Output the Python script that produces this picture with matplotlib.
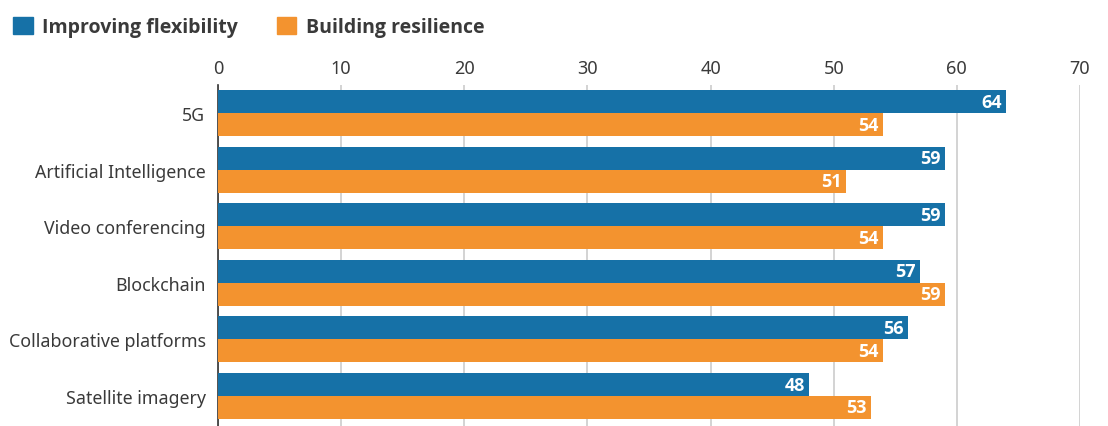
import numpy as np
import matplotlib.pyplot as plt
from matplotlib.patches import Patch

categories = ["5G", "Artificial Intelligence", "Video conferencing", "Blockchain",
              "Collaborative platforms", "Satellite imagery"]
flexibility = [64, 59, 59, 57, 56, 48]
resilience = [54, 51, 54, 59, 54, 53]
series_names = ["Improving flexibility", "Building resilience"]

blue = "#1671a7"
orange = "#f3932f"
text_col = "#3a3a3a"
bold_family = ["Open Sans", "Lato", "DejaVu Sans"]

plt.rcParams["font.family"] = ["Noto Sans", "DejaVu Sans"]

fig = plt.figure(figsize=(11.08, 4.27), dpi=100)
ax = fig.add_axes([0.1968, 0.0, 0.7779, 0.7986])

y = np.arange(len(categories))
h = 0.406
ax.barh(y - h / 2, flexibility, height=h, color=blue, zorder=3)
ax.barh(y + h / 2, resilience, height=h, color=orange, zorder=3)

for yi, v in zip(y, flexibility):
    ax.text(v - 0.35, yi - h / 2, str(v), ha="right", va="center", color="white",
            fontsize=13, fontweight="bold", family=bold_family, zorder=4)
for yi, v in zip(y, resilience):
    ax.text(v - 0.35, yi + h / 2, str(v), ha="right", va="center", color="white",
            fontsize=13, fontweight="bold", family=bold_family, zorder=4)

ax.set_xlim(0, 70)
ax.set_ylim(5.53, -0.495)
ax.set_xticks(range(0, 71, 10))
ax.xaxis.tick_top()
ax.tick_params(axis="x", length=0, pad=6, labelsize=13, labelcolor=text_col)
ax.set_yticks(y)
ax.set_yticklabels(categories)
ax.tick_params(axis="y", length=0, pad=9, labelsize=12.8, labelcolor=text_col)
ax.grid(axis="x", color="#cccccc", linewidth=1.2, zorder=0)
for s in ["top", "right", "bottom"]:
    ax.spines[s].set_visible(False)
ax.spines["left"].set_color("#333333")
ax.spines["left"].set_linewidth(1.2)

handles = [Patch(color=blue), Patch(color=orange)]
fig.legend(handles, series_names, loc="upper left", bbox_to_anchor=(-0.004, 1.0),
           ncol=2, frameon=False, handlelength=1.0, handleheight=1.0,
           handletextpad=0.5, columnspacing=2.0,
           prop={"size": 14, "weight": "bold", "family": bold_family},
           labelcolor=text_col)

fig.savefig("out.png", dpi=100)
